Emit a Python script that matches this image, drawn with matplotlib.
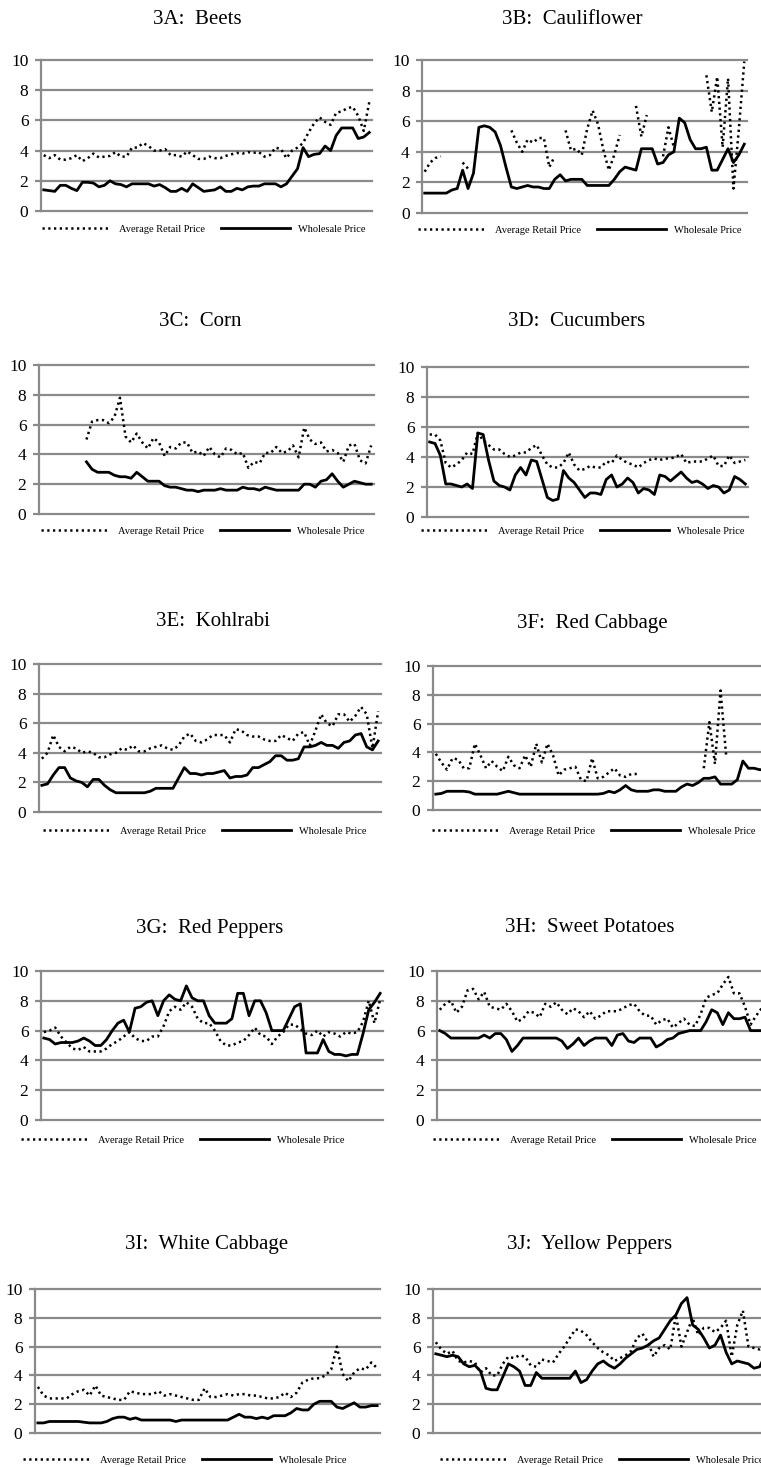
import numpy as np
import matplotlib
matplotlib.use('Agg')
import matplotlib.pyplot as plt

nan = np.nan

# values, 60 periods per panel
beets_retail = [3.7, 3.5, 3.7, 3.4, 3.4, 3.5, 3.7, 3.3, 3.5, 3.8,
                3.55, 3.6, 3.65, 3.9, 3.6, 3.6, 4.2, 4.2, 4.5, 4.3,
                4.0, 4.0, 4.1, 3.7, 3.7, 3.6, 3.95, 3.7, 3.45, 3.45,
                3.6, 3.5, 3.5, 3.65, 3.75, 3.85, 3.8, 3.9, 3.85, 3.9,
                3.6, 3.7, 4.2, 4.1, 3.5, 4.0, 4.2, 4.5, 5.2, 5.8,
                6.2, 5.9, 5.7, 6.5, 6.6, 6.8, 6.9, 6.3, 5.3, 7.2]
beets_wholesale = [1.4, 1.35, 1.3, 1.7, 1.7, 1.5, 1.35, 1.9, 1.9, 1.85,
                   1.6, 1.7, 2.0, 1.8, 1.75, 1.6, 1.8, 1.8, 1.8, 1.8,
                   1.65, 1.75, 1.55, 1.3, 1.3, 1.5, 1.3, 1.8, 1.55, 1.3,
                   1.35, 1.4, 1.6, 1.3, 1.3, 1.5, 1.4, 1.6, 1.65, 1.65,
                   1.8, 1.8, 1.8, 1.6, 1.8, 2.3, 2.8, 4.2, 3.6, 3.75,
                   3.8, 4.3, 4.0, 5.0, 5.5, 5.5, 5.5, 4.8, 4.9, 5.2]

cauli_retail = [2.7, 3.3, 3.6, 3.7, nan, nan, nan, 3.3, 2.9, nan,
                nan, nan, nan, nan, nan, nan, 5.4, 4.6, 4.0, 4.8,
                4.6, 4.9, 4.9, 3.0, 3.7, nan, 5.4, 4.1, 4.2, 3.8,
                5.5, 6.7, 5.8, 4.1, 2.8, 3.8, 5.1, nan, nan, 7.0,
                5.0, 6.4, nan, nan, 3.7, 5.6, 4.3, nan, nan, nan,
                nan, nan, 9.0, 6.6, 8.9, 4.3, 8.8, 1.6, 5.5, 9.9]
cauli_wholesale = [1.3, 1.3, 1.3, 1.3, 1.3, 1.5, 1.6, 2.8, 1.6, 2.6,
                   5.6, 5.7, 5.6, 5.3, 4.4, 3.0, 1.7, 1.6, 1.7, 1.8,
                   1.7, 1.7, 1.6, 1.6, 2.2, 2.5, 2.1, 2.2, 2.2, 2.2,
                   1.8, 1.8, 1.8, 1.8, 1.8, 2.2, 2.7, 3.0, 2.9, 2.8,
                   4.2, 4.2, 4.2, 3.2, 3.3, 3.8, 4.0, 6.2, 5.9, 4.8,
                   4.2, 4.2, 4.3, 2.8, 2.8, 3.5, 4.2, 3.3, 3.8, 4.5]

corn_retail = [nan, nan, nan, nan, nan, nan, nan, nan, 5.0, 6.2,
               6.3, 6.3, 6.1, 6.5, 7.8, 5.2, 4.8, 5.4, 4.8, 4.4,
               5.1, 4.8, 3.9, 4.5, 4.4, 4.8, 4.8, 4.1, 4.2, 3.9,
               4.5, 4.0, 3.8, 4.4, 4.3, 4.0, 4.1, 3.1, 3.5, 3.4,
               4.1, 4.1, 4.5, 4.1, 4.2, 4.6, 3.8, 5.8, 5.0, 4.7,
               4.8, 4.2, 4.3, 4.1, 3.5, 4.6, 4.7, 3.6, 3.4, 4.6]
corn_wholesale = [nan, nan, nan, nan, nan, nan, nan, nan, 3.5, 3.0,
                  2.8, 2.8, 2.8, 2.6, 2.5, 2.5, 2.4, 2.8, 2.5, 2.2,
                  2.2, 2.2, 1.9, 1.8, 1.8, 1.7, 1.6, 1.6, 1.5, 1.6,
                  1.6, 1.6, 1.7, 1.6, 1.6, 1.6, 1.8, 1.7, 1.7, 1.6,
                  1.8, 1.7, 1.6, 1.6, 1.6, 1.6, 1.6, 2.0, 2.0, 1.8,
                  2.2, 2.3, 2.7, 2.2, 1.8, 2.0, 2.2, 2.1, 2.0, 2.0]

cucumber_retail = [5.5, 5.5, 5.1, 3.6, 3.3, 3.5, 3.8, 4.3, 4.2, 5.6,
                   5.1, 4.8, 4.5, 4.5, 4.2, 4.0, 4.1, 4.3, 4.3, 4.6,
                   4.8, 4.1, 3.5, 3.3, 3.3, 3.6, 4.3, 3.5, 3.1, 3.2,
                   3.4, 3.3, 3.3, 3.7, 3.6, 4.1, 3.8, 3.6, 3.5, 3.3,
                   3.6, 3.8, 3.9, 3.8, 3.9, 3.9, 4.0, 4.2, 3.6, 3.7,
                   3.7, 3.7, 3.9, 4.1, 3.4, 3.4, 4.1, 3.6, 3.7, 3.8]
cucumber_wholesale = [5.0, 4.9, 4.1, 2.2, 2.2, 2.1, 2.0, 2.2, 1.9, 5.6,
                      5.5, 3.8, 2.4, 2.1, 2.0, 1.8, 2.8, 3.3, 2.8, 3.8,
                      3.7, 2.5, 1.3, 1.1, 1.2, 3.1, 2.6, 2.3, 1.8, 1.3,
                      1.6, 1.6, 1.5, 2.5, 2.8, 2.0, 2.2, 2.6, 2.3, 1.6,
                      1.9, 1.8, 1.5, 2.8, 2.7, 2.4, 2.7, 3.0, 2.6, 2.3,
                      2.4, 2.2, 1.9, 2.1, 2.0, 1.6, 1.8, 2.7, 2.5, 2.2]

kohl_retail = [3.6, 4.0, 5.2, 4.4, 4.1, 4.4, 4.3, 4.0, 4.1, 4.0,
               3.7, 3.7, 3.9, 4.0, 4.3, 4.2, 4.5, 4.1, 4.1, 4.3,
               4.4, 4.5, 4.3, 4.2, 4.5, 5.1, 5.3, 4.8, 4.7, 4.9,
               5.2, 5.2, 5.2, 4.7, 5.6, 5.5, 5.2, 5.1, 5.1, 4.9,
               4.8, 4.8, 5.2, 5.0, 4.8, 5.3, 5.4, 4.5, 5.5, 6.6,
               6.0, 5.8, 6.6, 6.6, 6.1, 6.5, 7.1, 6.6, 4.3, 6.8]
kohl_wholesale = [1.8, 1.9, 2.5, 3.0, 3.0, 2.3, 2.1, 2.0, 1.7, 2.2,
                  2.2, 1.8, 1.5, 1.3, 1.3, 1.3, 1.3, 1.3, 1.3, 1.4,
                  1.6, 1.6, 1.6, 1.6, 2.3, 3.0, 2.6, 2.6, 2.5, 2.6,
                  2.6, 2.7, 2.8, 2.3, 2.4, 2.4, 2.5, 3.0, 3.0, 3.2,
                  3.4, 3.8, 3.8, 3.5, 3.5, 3.6, 4.4, 4.4, 4.5, 4.7,
                  4.5, 4.5, 4.3, 4.7, 4.8, 5.2, 5.3, 4.4, 4.2, 4.8]

redcab_retail = [3.9, 3.3, 2.8, 3.6, 3.5, 2.9, 2.9, 4.6, 3.8, 2.9,
                 3.4, 3.0, 2.7, 3.7, 3.1, 2.9, 3.8, 3.0, 4.6, 3.3,
                 4.6, 3.8, 2.4, 2.8, 2.9, 3.0, 2.1, 2.0, 3.6, 2.2,
                 2.3, 2.6, 2.9, 2.4, 2.3, 2.5, 2.5, nan, nan, nan,
                 nan, nan, nan, nan, nan, nan, nan, nan, 2.9, 6.1,
                 3.2, 8.3, 3.8, nan, nan, nan, nan, nan, nan, nan]
redcab_wholesale = [1.1, 1.15, 1.3, 1.3, 1.3, 1.3, 1.25, 1.1, 1.1, 1.1,
                    1.1, 1.1, 1.2, 1.3, 1.2, 1.1, 1.1, 1.1, 1.1, 1.1,
                    1.1, 1.1, 1.1, 1.1, 1.1, 1.1, 1.1, 1.1, 1.1, 1.1,
                    1.15, 1.3, 1.2, 1.4, 1.7, 1.4, 1.3, 1.3, 1.3, 1.4,
                    1.4, 1.3, 1.3, 1.3, 1.6, 1.8, 1.7, 1.9, 2.2, 2.2,
                    2.3, 1.8, 1.8, 1.8, 2.1, 3.4, 2.9, 2.9, 2.8, 2.8]

redpep_retail = [5.9, 6.0, 6.2, 5.6, 5.2, 4.8, 4.7, 4.9, 4.6, 4.6,
                 4.6, 4.8, 5.1, 5.3, 5.6, 5.9, 5.5, 5.3, 5.3, 5.6,
                 5.6, 6.3, 7.3, 7.6, 7.4, 7.9, 7.6, 6.8, 6.5, 6.5,
                 6.0, 5.3, 5.0, 5.0, 5.2, 5.3, 5.7, 6.2, 5.7, 5.6,
                 5.1, 5.6, 5.9, 6.4, 6.4, 6.1, 5.8, 5.7, 6.0, 5.6,
                 5.9, 5.8, 5.6, 5.9, 5.8, 5.9, 6.6, 8.0, 6.5, 8.1]
redpep_wholesale = [5.5, 5.4, 5.1, 5.2, 5.2, 5.2, 5.3, 5.5, 5.3, 5.0,
                    5.0, 5.4, 6.0, 6.5, 6.7, 5.9, 7.5, 7.6, 7.9, 8.0,
                    7.0, 8.0, 8.4, 8.1, 8.0, 9.0, 8.2, 8.0, 8.0, 7.0,
                    6.5, 6.5, 6.5, 6.8, 8.5, 8.5, 7.0, 8.0, 8.0, 7.2,
                    6.0, 6.0, 6.0, 6.8, 7.6, 7.8, 4.5, 4.5, 4.5, 5.4,
                    4.6, 4.4, 4.4, 4.3, 4.4, 4.4, 5.8, 7.4, 7.9, 8.5]

sweetpot_retail = [7.4, 7.8, 8.0, 7.2, 7.6, 8.7, 8.8, 8.1, 8.6, 7.6,
                   7.5, 7.4, 7.8, 7.3, 6.6, 6.8, 7.3, 7.2, 6.9, 7.8,
                   7.6, 7.9, 7.4, 7.1, 7.5, 7.3, 6.9, 7.3, 6.8, 7.0,
                   7.3, 7.3, 7.3, 7.5, 7.7, 7.8, 7.3, 7.0, 7.0, 6.4,
                   6.7, 6.8, 6.2, 6.5, 6.8, 6.4, 6.3, 7.1, 8.2, 8.4,
                   8.5, 9.1, 9.6, 8.5, 8.5, 7.6, 6.4, 7.0, 7.5, 7.8]
sweetpot_wholesale = [6.0, 5.8, 5.5, 5.5, 5.5, 5.5, 5.5, 5.5, 5.7, 5.5,
                      5.8, 5.8, 5.4, 4.6, 5.0, 5.5, 5.5, 5.5, 5.5, 5.5,
                      5.5, 5.5, 5.3, 4.8, 5.1, 5.5, 5.0, 5.3, 5.5, 5.5,
                      5.5, 5.0, 5.7, 5.8, 5.3, 5.2, 5.5, 5.5, 5.5, 4.9,
                      5.1, 5.4, 5.5, 5.8, 5.9, 6.0, 6.0, 6.0, 6.6, 7.4,
                      7.2, 6.4, 7.2, 6.8, 6.8, 6.9, 6.0, 6.0, 6.0, 6.0]

whitecab_retail = [3.2, 2.6, 2.4, 2.4, 2.4, 2.4, 2.7, 2.9, 3.0, 2.6,
                   3.3, 2.6, 2.5, 2.4, 2.3, 2.3, 2.9, 2.8, 2.7, 2.7,
                   2.7, 2.9, 2.6, 2.7, 2.6, 2.5, 2.4, 2.3, 2.3, 3.1,
                   2.5, 2.5, 2.6, 2.7, 2.6, 2.7, 2.7, 2.6, 2.6, 2.5,
                   2.4, 2.4, 2.5, 2.8, 2.5, 2.8, 3.5, 3.7, 3.8, 3.8,
                   4.0, 4.4, 6.0, 4.1, 3.6, 4.2, 4.5, 4.4, 4.9, 4.5]
whitecab_wholesale = [0.7, 0.7, 0.8, 0.8, 0.8, 0.8, 0.8, 0.8, 0.75, 0.7,
                      0.7, 0.7, 0.8, 1.0, 1.1, 1.1, 0.95, 1.05, 0.9, 0.9,
                      0.9, 0.9, 0.9, 0.9, 0.8, 0.9, 0.9, 0.9, 0.9, 0.9,
                      0.9, 0.9, 0.9, 0.9, 1.1, 1.3, 1.1, 1.1, 1.0, 1.1,
                      1.0, 1.2, 1.2, 1.2, 1.4, 1.7, 1.6, 1.6, 2.0, 2.2,
                      2.2, 2.2, 1.8, 1.7, 1.9, 2.1, 1.8, 1.8, 1.9, 1.9]

yellowpep_retail = [6.3, 5.8, 5.5, 5.7, 5.0, 4.9, 5.0, 4.9, 4.2, 4.5,
                    4.0, 4.0, 4.8, 5.3, 5.2, 5.4, 5.3, 4.7, 4.6, 5.1,
                    5.0, 4.9, 5.5, 6.0, 6.6, 7.2, 7.1, 6.8, 6.3, 5.9,
                    5.6, 5.4, 5.0, 5.2, 5.4, 5.7, 6.6, 6.9, 6.3, 5.3,
                    5.9, 6.1, 5.8, 8.2, 6.0, 7.0, 8.0, 6.8, 7.3, 7.3,
                    7.0, 7.3, 7.8, 5.3, 7.5, 8.5, 6.0, 5.9, 5.8, 6.0]
yellowpep_wholesale = [5.5, 5.4, 5.3, 5.4, 5.3, 4.8, 4.6, 4.7, 4.3, 3.1,
                       3.0, 3.0, 3.9, 4.8, 4.6, 4.3, 3.3, 3.3, 4.2, 3.8,
                       3.8, 3.8, 3.8, 3.8, 3.8, 4.3, 3.5, 3.7, 4.3, 4.8,
                       5.0, 4.7, 4.5, 4.8, 5.2, 5.5, 5.8, 5.9, 6.1, 6.4,
                       6.6, 7.2, 7.8, 8.2, 9.0, 9.4, 7.5, 7.2, 6.6, 5.9,
                       6.1, 6.8, 5.6, 4.8, 5.0, 4.9, 4.8, 4.5, 4.6, 5.4]

titles = ['3A:  Beets', '3B:  Cauliflower', '3C:  Corn', '3D:  Cucumbers',
          '3E:  Kohlrabi', '3F:  Red Cabbage', '3G:  Red Peppers',
          '3H:  Sweet Potatoes', '3I:  White Cabbage', '3J:  Yellow Peppers']
retail = [beets_retail, cauli_retail, corn_retail, cucumber_retail, kohl_retail,
          redcab_retail, redpep_retail, sweetpot_retail, whitecab_retail, yellowpep_retail]
wholesale = [beets_wholesale, cauli_wholesale, corn_wholesale, cucumber_wholesale,
             kohl_wholesale, redcab_wholesale, redpep_wholesale, sweetpot_wholesale,
             whitecab_wholesale, yellowpep_wholesale]
yticks = [0, 2, 4, 6, 8, 10]

# pixel layout: axes box (left, top, right, bottom), title centre, legend centre
W, H = 761, 1467
boxes = [(41, 60, 372, 211), (422, 60, 747, 213),
         (39, 365, 374, 514), (427, 367, 748, 517),
         (39, 664, 381, 812), (433, 666, 768, 810),
         (41, 971, 383, 1120), (437, 971, 770, 1120),
         (35, 1289, 380, 1433), (433, 1289, 768, 1433)]
title_pos = [(197, 20), (572, 20), (200, 322), (577, 322), (213, 622),
             (592, 623), (210, 928), (590, 928), (207, 1245), (590, 1245)]
legend_pos = [(204, 229), (580, 230), (203, 531), (583, 531), (205, 831),
              (594, 831), (183, 1140), (595, 1140), (185, 1460), (602, 1460)]

grid_col = '#8a8a8a'
dots = (0, (0.9, 1.4))
plt.rcParams['font.family'] = 'Liberation Serif'

fig = plt.figure(figsize=(W / 100, H / 100), dpi=100)

for k in range(10):
    l, t, r, b = boxes[k]
    ax = fig.add_axes([l / W, 1 - b / H, (r - l) / W, (b - t) / H])
    ret = np.array(retail[k], dtype=float)
    whl = np.array(wholesale[k], dtype=float)
    x = np.arange(len(ret))
    for yv in yticks:
        ax.axhline(yv, color=grid_col, lw=1.6, clip_on=False, zorder=1)
    ax.plot(x, ret, color='black', lw=1.8, linestyle=dots,
            label='Average Retail Price', zorder=3)
    ax.plot(x, whl, color='black', lw=2.0, label='Wholesale Price', zorder=3)
    ax.set_xlim(-0.5, len(ret) - 0.5)
    ax.set_ylim(0, 10)
    ax.set_yticks(yticks)
    ax.set_xticks([])
    for s in ['top', 'right', 'bottom']:
        ax.spines[s].set_visible(False)
    ax.spines['left'].set_color(grid_col)
    ax.spines['left'].set_linewidth(1.6)
    ax.tick_params(axis='y', length=4, width=1.6, color=grid_col, pad=5,
                   labelsize=12.5)
    ax.patch.set_alpha(0)
    ax.legend(loc='center', ncol=2, frameon=False, fontsize=7.5,
              handlelength=6.6, handletextpad=0.8, columnspacing=1.5,
              bbox_to_anchor=(legend_pos[k][0] / W, 1 - legend_pos[k][1] / H),
              bbox_transform=fig.transFigure)
    fig.text(title_pos[k][0] / W, 1 - title_pos[k][1] / H, titles[k],
             ha='center', va='center', fontsize=15)

fig.savefig('out.png', dpi=100)
